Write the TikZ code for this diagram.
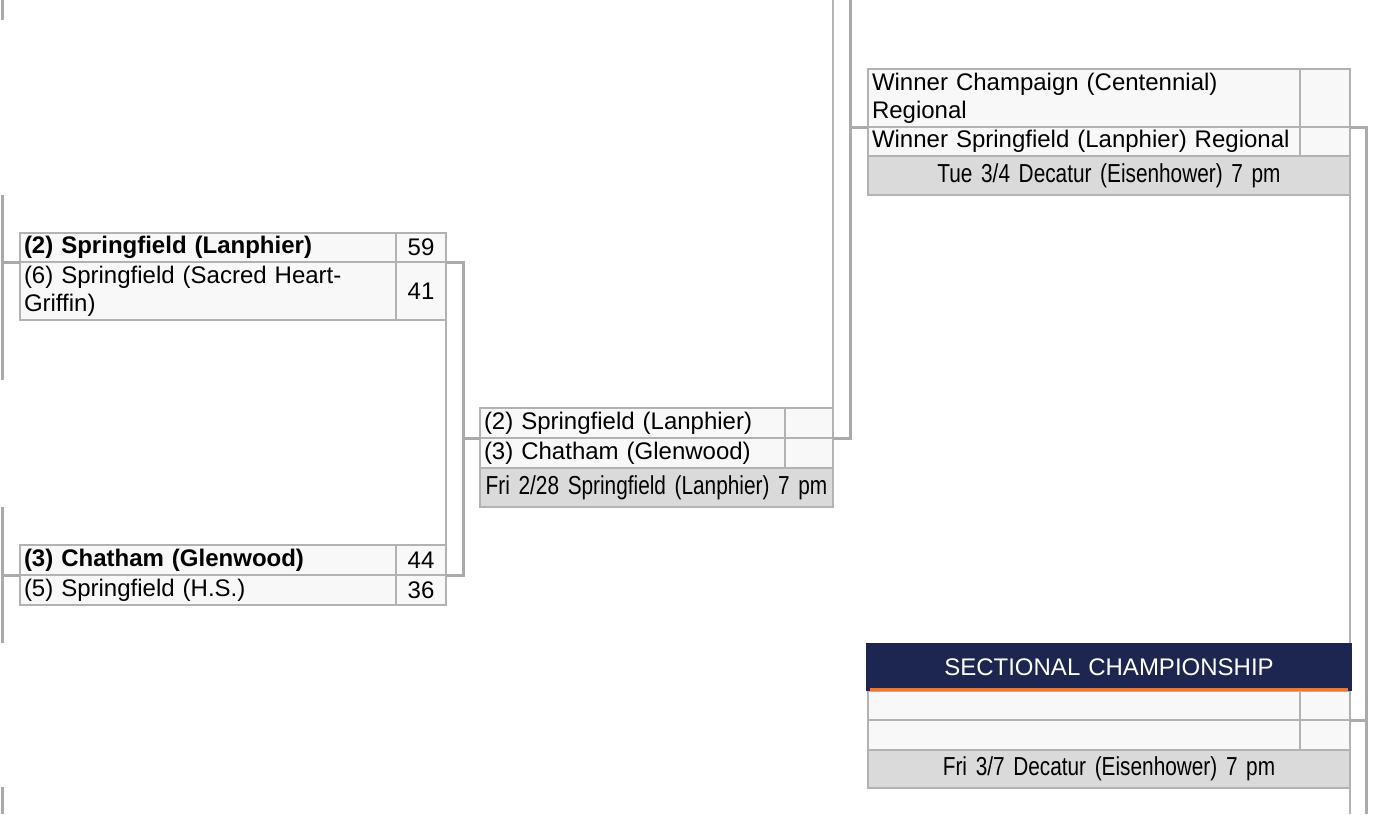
\documentclass[tikz,border=0pt]{standalone}
\usepackage{fontspec}
\setmainfont{Liberation Sans}
\newfontfamily\narrowfont[FakeStretch=0.8,WordSpace=0.8]{Liberation Sans}
\usetikzlibrary{positioning}

\definecolor{rulegray}{HTML}{B2B2B2}
\definecolor{linkgray}{HTML}{AAAAAA}
\definecolor{cellfill}{HTML}{F8F8F8}
\definecolor{datefill}{HTML}{DADADA}
\definecolor{navy}{HTML}{1C2651}
\definecolor{accent}{HTML}{E8793A}

\begin{document}
\begin{tikzpicture}[x=1pt,y=-1pt,node distance=0pt,
  every node/.style={outer sep=0pt, inner ysep=0pt, inner xsep=4pt,
    font=\fontsize{24}{28}\selectfont},
  cell/.style={draw=rulegray, line width=2pt, fill=cellfill, rectangle},
  team/.style={cell, align=left, text width=#1},
  score/.style={cell, align=center, text width=#1},
  score/.default=42pt,
  datebox/.style={cell, fill=datefill, align=center, text width=#1,
    font=\fontsize{26}{28}\narrowfont},
  link/.style={draw=linkgray, line width=3pt},
  guide/.style={draw=rulegray, line width=2pt}]
  \useasboundingbox (0,0) rectangle (1378,814);

  % first round
  \node[team=368pt, minimum height=29pt, anchor=north west] (t1a) at (20,233) {\textbf{(2) Springfield (Lanphier)}};
  \node[score, minimum height=29pt, right=of t1a] (q1a) {59};
  \node[team=368pt, minimum height=58pt, below=of t1a] (t1b) {(6) Springfield (Sacred Heart-\\Griffin)};
  \node[score, minimum height=58pt, right=of t1b] (q1b) {41};

  \node[team=368pt, minimum height=30pt, anchor=north west] (t2a) at (20,545) {\textbf{(3) Chatham (Glenwood)}};
  \node[score, minimum height=30pt, right=of t2a] (q2a) {44};
  \node[team=368pt, minimum height=30pt, below=of t2a] (t2b) {(5) Springfield (H.S.)};
  \node[score, minimum height=30pt, right=of t2b] (q2b) {36};

  % regional final
  \node[team=297pt, minimum height=30pt, anchor=north west] (t3a) at (480,408) {(2) Springfield (Lanphier)};
  \node[score=40pt, minimum height=30pt, right=of t3a] (q3a) {};
  \node[team=297pt, minimum height=30pt, below=of t3a] (t3b) {(3) Chatham (Glenwood)};
  \node[score=40pt, minimum height=30pt, right=of t3b] (q3b) {};
  \node[datebox=345pt, minimum height=39pt, below=of t3b.south west, anchor=north west] (d3) {Fri 2/28 Springfield (Lanphier) 7 pm};

  % sectional semifinal
  \node[team=424pt, minimum height=58pt, anchor=north west] (t4a) at (868,69) {Winner Champaign (Centennial)\\Regional};
  \node[score, minimum height=58pt, right=of t4a] (q4a) {};
  \node[team=424pt, minimum height=29pt, below=of t4a] (t4b) {Winner Springfield (Lanphier) Regional};
  \node[score, minimum height=29pt, right=of t4b] (q4b) {};
  \node[datebox=474pt, minimum height=39pt, below=of t4b.south west, anchor=north west] (d4) {Tue 3/4 Decatur (Eisenhower) 7 pm};

  % sectional championship
  \node[team=424pt, minimum height=29pt, anchor=north west] (tca) at (868,691) {};
  \node[score, minimum height=29pt, right=of tca] (qca) {};
  \node[team=424pt, minimum height=30pt, below=of tca] (tcb) {};
  \node[score, minimum height=30pt, right=of tcb] (qcb) {};
  \node[datebox=474pt, minimum height=38pt, below=of tcb.south west, anchor=north west] (dc) {Fri 3/7 Decatur (Eisenhower) 7 pm};
  \node[fill=navy, text=white, align=center, text width=478pt, minimum height=48pt, anchor=north west] (head) at (866,643) {SECTIONAL CHAMPIONSHIP};
  \draw[accent, line width=3pt] ([xshift=4pt,yshift=1.5pt]head.south west) -- ([xshift=-4pt,yshift=1.5pt]head.south east);

  % brackets
  \draw[link] (t1a.south west) -- ++(-18,0) coordinate (l1);
  \draw[link] ([yshift=67pt]l1) -- ([yshift=-118pt]l1);
  \draw[link] (t2a.south west) -- ++(-18,0) coordinate (l2);
  \draw[link] ([yshift=68pt]l2) -- ([yshift=-68pt]l2);
  \draw[link] (l1 |- 0,0) -- (l1 |- 0,20);
  \draw[link] (l1 |- 0,787) -- (l1 |- 0,814);

  \draw[link] (q1a.south east) -- ++(17,0) |- (q2a.south east);
  \draw[link] (t3a.south west) -- ++(-17,0);
  \draw[guide] (q1b.south east) -- (q2a.north east);

  \draw[guide] (q3a.north east) -- (q3a.north east |- 0,0);
  \draw[link] (q3a.south east) -- ++(17,0) coordinate (r3) -- (r3 |- 0,0);
  \draw[link] (t4a.south west) -- (t4a.south west -| r3);

  \draw[link] (q4a.south east) -- ++(16,0) coordinate (r4) -- (r4 |- 0,814);
  \draw[link] (qca.south east) -- (qca.south east -| r4);
  \draw[guide] (d4.south east) -- (d4.south east |- head.north);
  \draw[guide] (dc.south east) -- (dc.south east |- 0,814);
\end{tikzpicture}
\end{document}
